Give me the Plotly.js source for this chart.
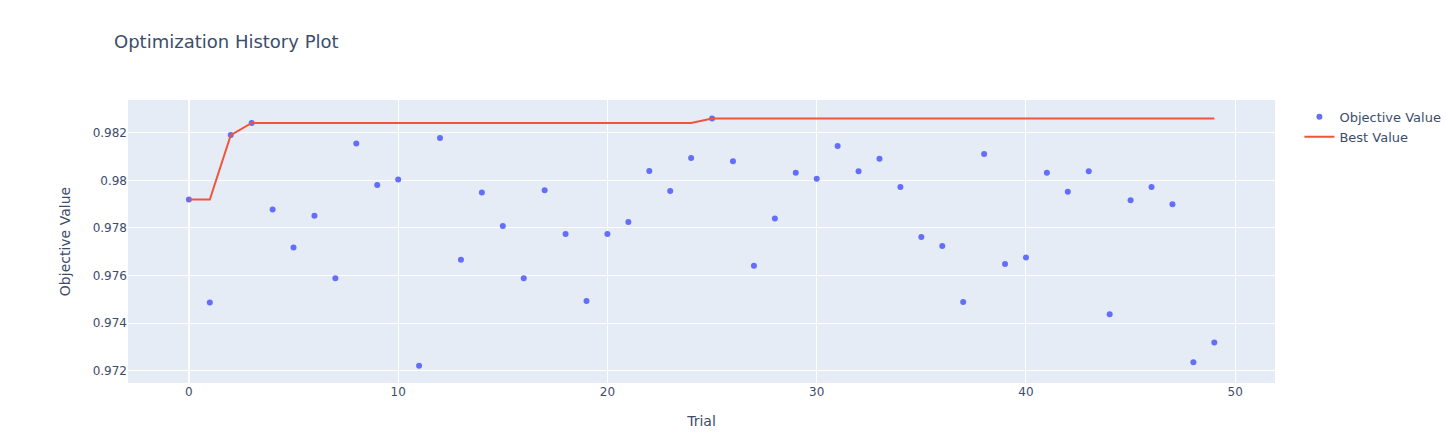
<!DOCTYPE html>
<html>
<head>
<meta charset="utf-8">
<script src="https://cdn.plot.ly/plotly-3.0.1.min.js"></script>
<style>html,body{margin:0;padding:0;background:#fff;}</style>
</head>
<body>
<div id="chart" style="width:1447px;height:443px;"></div>
<script>
const trials = [0,1,2,3,4,5,6,7,8,9,10,11,12,13,14,15,16,17,18,19,20,21,22,23,24,25,26,27,28,29,30,31,32,33,34,35,36,37,38,39,40,41,42,43,44,45,46,47,48,49];
const objectiveValues = [
  0.97919, 0.97487, 0.98190, 0.98241, 0.97877, 0.97718, 0.97851, 0.97588, 0.98155, 0.97980,
  0.98003, 0.97221, 0.98178, 0.97666, 0.97949, 0.97808, 0.97588, 0.97958, 0.97774, 0.97493,
  0.97774, 0.97825, 0.98039, 0.97955, 0.98094, 0.98260, 0.98080, 0.97641, 0.97840, 0.98032,
  0.98007, 0.98144, 0.98038, 0.98091, 0.97972, 0.97762, 0.97724, 0.97489, 0.98110, 0.97648,
  0.97676, 0.98032, 0.97952, 0.98038, 0.97437, 0.97916, 0.97972, 0.97899, 0.97235, 0.97318
];
const bestValues = [
  0.97919, 0.97919, 0.98190, 0.98241, 0.98241, 0.98241, 0.98241, 0.98241, 0.98241, 0.98241,
  0.98241, 0.98241, 0.98241, 0.98241, 0.98241, 0.98241, 0.98241, 0.98241, 0.98241, 0.98241,
  0.98241, 0.98241, 0.98241, 0.98241, 0.98241, 0.98260, 0.98260, 0.98260, 0.98260, 0.98260,
  0.98260, 0.98260, 0.98260, 0.98260, 0.98260, 0.98260, 0.98260, 0.98260, 0.98260, 0.98260,
  0.98260, 0.98260, 0.98260, 0.98260, 0.98260, 0.98260, 0.98260, 0.98260, 0.98260, 0.98260
];

const data = [
  {x: trials, y: objectiveValues, mode: 'markers', type: 'scatter', name: 'Objective Value',
   marker: {color: '#636efa', size: 6}},
  {x: trials, y: bestValues, mode: 'lines', type: 'scatter', name: 'Best Value',
   line: {color: '#EF553B', width: 2}}
];

const layout = {
  width: 1447, height: 443,
  paper_bgcolor: '#ffffff',
  plot_bgcolor: '#E5ECF6',
  font: {family: '"DejaVu Sans", Verdana, sans-serif', color: '#3c4d6b', size: 12},
  margin: {l: 128, r: 172, t: 100, b: 60},
  title: {text: 'Optimization History Plot', font: {size: 18, color: '#3c4d6b'},
          xref: 'container', x: 0.0788, xanchor: 'left', yref: 'container', y: 0.905, yanchor: 'middle'},
  xaxis: {title: {text: 'Trial', font: {size: 14}, standoff: 18}, automargin: true, range: [-2.91, 51.9], dtick: 10,
          gridcolor: '#ffffff', zerolinecolor: '#ffffff', zerolinewidth: 2, linecolor: '#ffffff', ticks: '', showline: false},
  yaxis: {title: {text: 'Objective Value', font: {size: 14}, standoff: 18}, automargin: true, range: [0.971483, 0.983374], dtick: 0.002,
          gridcolor: '#ffffff', zerolinecolor: '#ffffff', zerolinewidth: 2, linecolor: '#ffffff', ticks: '', showline: false},
  legend: {xref: 'container', yref: 'container', x: 0.898, y: 0.77, xanchor: 'left', yanchor: 'top', font: {size: 13}},
  showlegend: true
};

Plotly.newPlot('chart', data, layout, {displayModeBar: false});
</script>
</body>
</html>
